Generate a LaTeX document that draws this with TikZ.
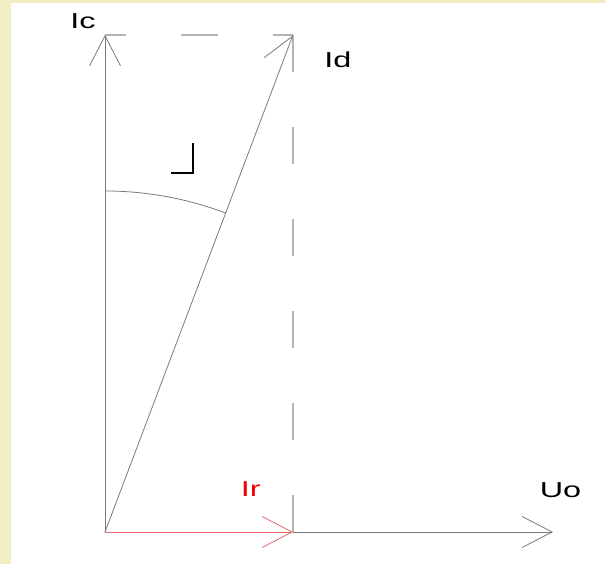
\documentclass[tikz,border=0pt]{standalone}
\usepackage{fontspec}
\setmainfont{Liberation Sans}
\usetikzlibrary{arrows.meta}
\definecolor{bgyellow}{HTML}{F1EFC2}
\definecolor{axisgray}{HTML}{7A7A7A}
\definecolor{dashgray}{HTML}{B4B4B4}
\definecolor{vecred}{HTML}{E46A6A}
\definecolor{lblred}{HTML}{F00000}
\tikzset{
	vec/.style={axisgray, line width=0.8pt, -{Straight Barb[length=30pt, width=31pt]}},
	proj/.style={dashgray, line width=1.4pt, dash pattern=on 37pt off 55pt},
	lbl/.style={inner sep=0pt, anchor=base west, xscale=1.5, transform shape, font=\fontsize{21.6}{24}\selectfont}
}
\begin{document}
\begin{tikzpicture}[x=1pt, y=1pt]
		\useasboundingbox (0,0) rectangle (606,564);
		\fill[white] (0,0) rectangle (606,564);
		\fill[bgyellow] (0,0) rectangle (11,564);
		\fill[bgyellow] (0,561) rectangle (606,564);
		
		\coordinate (O) at (105,32);
		\coordinate (Ic) at (105,529);
		\coordinate (Id) at (293,529);
		\coordinate (Ir) at (293,32);
		\coordinate (Uo) at (553,32);
		
		\draw[proj, dash phase=16pt] (Ic) -- (Id);
		\draw[proj] (Id) -- (Ir);
		
		\draw[vec] (O) -- (Ic);
		\draw[vec] (Ir) -- (Uo);
		\draw[axisgray, line width=0.8pt, -{Straight Barb[harpoon, length=30pt, width=38pt]}] (O) -- (Id);
		\draw[vec, vecred] (O) -- (Ir);
		
		% angle between Ic and Id
		\draw[axisgray, line width=0.8pt] (105,373) arc[start angle=90, end angle=69.28, radius=341];
		\draw[black, line width=1.6pt] (193,421) -- (193,391) -- (171,391);
		
		\node[lbl] (lIc) at (70,535) {Ic};
		\node[lbl] (lId) at (324,496) {Id};
		\node[lbl, text=lblred] (lIr) at (240.5,67.3) {Ir};
		\node[lbl] (lUo) at (539.5,66.3) {Uo};
	\end{tikzpicture}
\end{document}
